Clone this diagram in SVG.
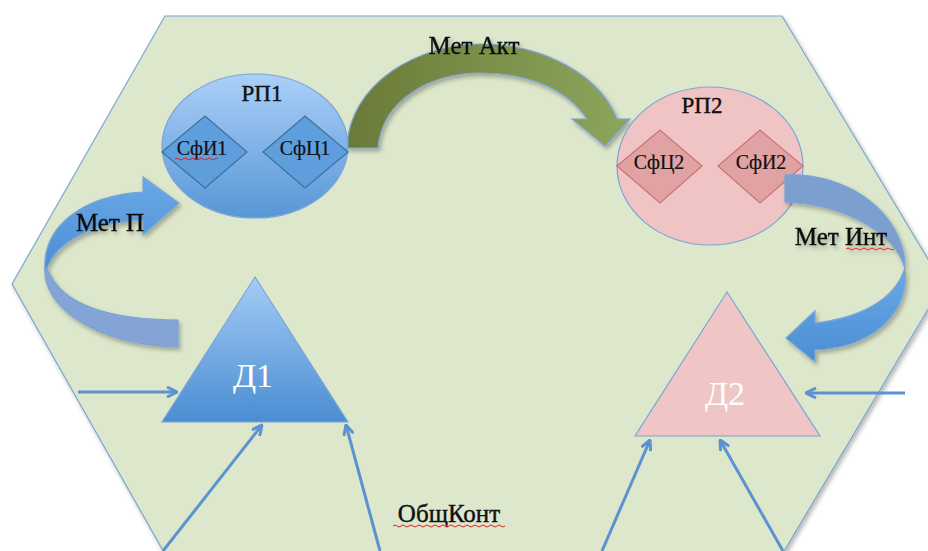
<svg xmlns="http://www.w3.org/2000/svg" width="928" height="551" viewBox="0 0 928 551">
  <defs>
    <style>
      .lbl { font-family: "Liberation Serif", "Times New Roman", serif; fill: #111; stroke: #111; stroke-width: 0.4; text-anchor: middle; font-size: 25px; }
      .rp { font-size: 23px; }
      .sf { font-family: "Liberation Serif", "Times New Roman", serif; fill: #111; stroke: #111; stroke-width: 0.2; text-anchor: middle; font-size: 20px; }
      .big { font-family: "Liberation Serif", "Times New Roman", serif; fill: #ffffff; text-anchor: middle; font-size: 34px; }
      .conn { fill: none; stroke: #5a93d0; stroke-width: 3; marker-end: url(#chev); }
      .edge { stroke: #7aa5d6; stroke-width: 1.2; }
      .squig { fill: none; stroke: #e02020; stroke-width: 1; }
    </style>
    <linearGradient id="gRP1" x1="0" y1="0" x2="0" y2="1">
      <stop offset="0" stop-color="#abd0f8"/>
      <stop offset="1" stop-color="#5796d7"/>
    </linearGradient>
    <linearGradient id="gD1" x1="0" y1="0" x2="0" y2="1">
      <stop offset="0" stop-color="#a5ccf6"/>
      <stop offset="1" stop-color="#4a8dd1"/>
    </linearGradient>
    <linearGradient id="gAkt" x1="0" y1="0" x2="1" y2="0">
      <stop offset="0" stop-color="#6a7a38"/>
      <stop offset="1" stop-color="#8ca65c"/>
    </linearGradient>
    <linearGradient id="gFront" x1="0" y1="0" x2="0" y2="1">
      <stop offset="0" stop-color="#6aa9e8"/>
      <stop offset="1" stop-color="#4b8ed3"/>
    </linearGradient>
    <filter id="shadow" x="-20%" y="-20%" width="140%" height="140%">
      <feDropShadow dx="2" dy="3" stdDeviation="2" flood-color="#000" flood-opacity="0.28"/>
    </filter>
    <marker id="chev" viewBox="0 0 12 12" refX="11" refY="6" markerWidth="12" markerHeight="12" markerUnits="userSpaceOnUse" orient="auto">
      <path d="M1,1 L11,6 L1,11" fill="none" stroke="#5a93d0" stroke-width="3"/>
    </marker>
  </defs>

  <rect width="928" height="551" fill="#ffffff"/>

  <!-- shared context: hexagon -->
  <g id="obshkont">
    <polygon points="165,16 782,16 943,284 755,600 191,600 12,284" fill="#dde7cb" class="edge" filter="url(#shadow)"/>
    <text class="lbl" x="449" y="522">ОбщКонт</text>
    <path class="squig" d="M393,526 q2,-2 4,0 t4,0 t4,0 t4,0 t4,0 t4,0 t4,0 t4,0 t4,0 t4,0 t4,0 t4,0 t4,0 t4,0 t4,0 t4,0 t4,0 t4,0 t4,0 t4,0 t4,0 t4,0 t4,0 t4,0 t4,0 t4,0 t4,0 t4,0"/>
  </g>

  <!-- connectors -->
  <g id="connectors">
    <line class="conn" x1="78" y1="392" x2="177" y2="392"/>
    <line class="conn" x1="163" y1="551" x2="262" y2="425"/>
    <line class="conn" x1="380" y1="551" x2="346" y2="425"/>
    <line class="conn" x1="905" y1="393" x2="806" y2="393"/>
    <line class="conn" x1="602" y1="551" x2="650" y2="440"/>
    <line class="conn" x1="783" y1="551" x2="720" y2="440"/>
  </g>

  <!-- Мет Акт -->
  <g id="met-akt" filter="url(#shadow)">
    <path d="M347,148 C349,82 420,44 480,44 C545,44 600,76 617,119 L630,119 L605,146 L572,119 L587,119 C568,90 530,73 480,73 C430,73 382,100 378,148 Z" fill="url(#gAkt)" class="edge"/>
    <text class="lbl" x="474" y="54">Мет Акт</text>
  </g>

  <!-- РП1 -->
  <g id="rp1">
    <ellipse cx="255" cy="146" rx="93" ry="72" fill="url(#gRP1)" class="edge"/>
    <text class="lbl rp" x="262" y="101">РП1</text>
  </g>
  <g id="sfi1">
    <polygon points="162,152 205,116 247,152 205,188" fill="#5f9edc" stroke="#3f6f9c" stroke-width="1.2"/>
    <text class="sf" x="202" y="155">СфИ1</text>
    <path class="squig" d="M175,159 q2,-2 4,0 t4,0 t4,0 t4,0 t4,0 t4,0 t4,0 t4,0 t4,0 t4,0 t3,0"/>
  </g>
  <g id="sfc1">
    <polygon points="263,152 305,116 348,152 305,188" fill="#5f9edc" stroke="#3f6f9c" stroke-width="1.2"/>
    <text class="sf" x="305" y="155">СфЦ1</text>
  </g>

  <!-- РП2 -->
  <g id="rp2">
    <ellipse cx="710" cy="166" rx="93" ry="79" fill="#f0c4c4" class="edge"/>
    <text class="lbl rp" x="702" y="113">РП2</text>
  </g>
  <g id="sfc2">
    <polygon points="617,166 660,130 702,166 660,203" fill="#e0a2a2" stroke="#c87474" stroke-width="1.2"/>
    <text class="sf" x="659" y="169">СфЦ2</text>
  </g>
  <g id="sfi2">
    <polygon points="718,166 760,130 803,166 760,203" fill="#e0a2a2" stroke="#c87474" stroke-width="1.2"/>
    <text class="sf" x="761" y="169">СфИ2</text>
  </g>

  <!-- Мет П -->
  <g id="met-p" filter="url(#shadow)">
    <path d="M45,268 C42,306 95,345 178,347 L178,320 C110,320 60,305 47,268 Z" fill="#83a4d4" class="edge"/>
    <path d="M45,270 C42,225 85,195 143,192 L143,177 L179,203 L143,235 L143,220 C100,222 58,238 47,268 Z" fill="url(#gFront)" class="edge"/>
    <text class="lbl" x="110" y="231">Мет П</text>
  </g>

  <!-- Мет Инт -->
  <g id="met-int" filter="url(#shadow)">
    <path d="M785,175 C850,172 905,215 905,268 C895,235 850,205 785,202 Z" fill="#7b9fd0" class="edge"/>
    <path d="M905,268 C910,315 870,348 815,350 L815,362 L786,338 L815,311 L815,323 C860,318 895,300 905,268 Z" fill="url(#gFront)" class="edge"/>
    <text class="lbl" x="841" y="245">Мет Инт</text>
    <path class="squig" d="M846,249 q2,-2 4,0 t4,0 t4,0 t4,0 t4,0 t4,0 t4,0 t4,0 t4,0 t4,0 t4,0 t4,0"/>
  </g>

  <!-- Д1 -->
  <g id="d1">
    <polygon points="255,277 348,422 162,422" fill="url(#gD1)" class="edge"/>
    <text class="big" x="253" y="387">Д1</text>
  </g>

  <!-- Д2 -->
  <g id="d2">
    <polygon points="727,292 820,436 635,436" fill="#efc5c5" class="edge"/>
    <text class="big" x="725" y="405">Д2</text>
  </g>
</svg>
